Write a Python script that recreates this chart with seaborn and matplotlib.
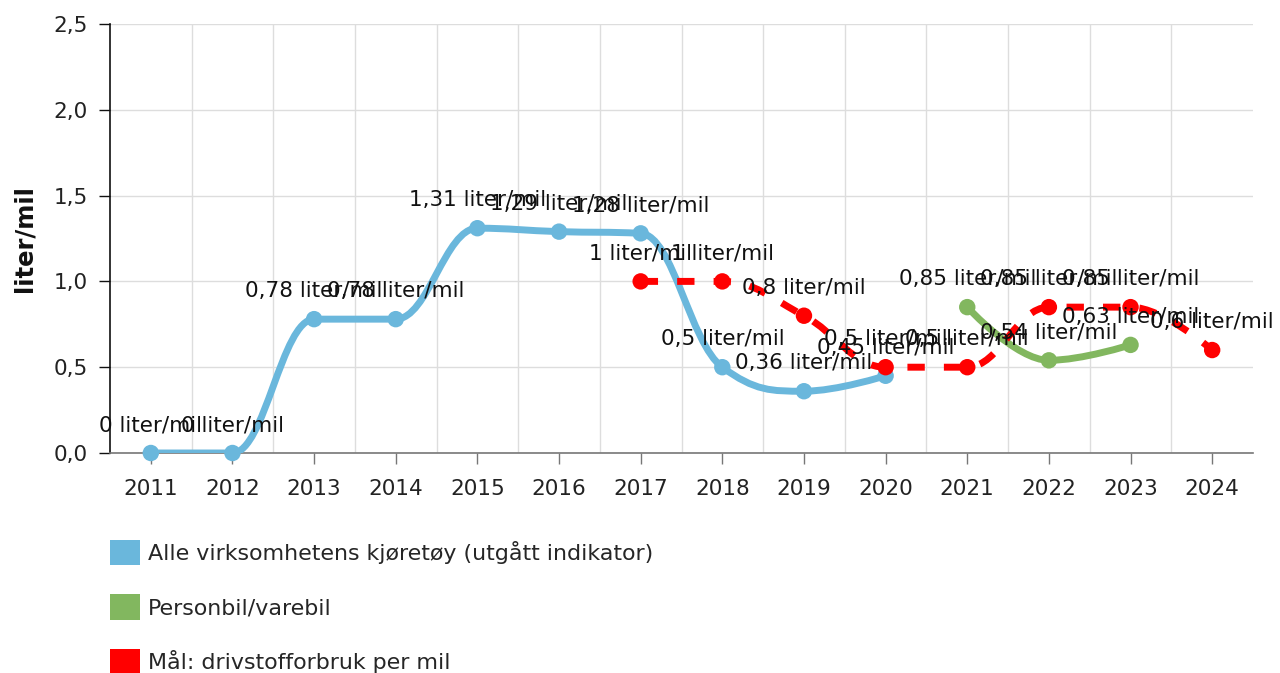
import matplotlib
matplotlib.use("Agg")
import matplotlib.pyplot as plt
import seaborn as sns
import pandas as pd
from matplotlib.path import Path
from matplotlib.patches import PathPatch, Patch

# ---- data ----
years = ["2011", "2012", "2013", "2014", "2015", "2016", "2017",
         "2018", "2019", "2020", "2021", "2022", "2023", "2024"]
alle_years = ["2011", "2012", "2013", "2014", "2015", "2016", "2017", "2018", "2019", "2020"]
alle_values = [0, 0, 0.78, 0.78, 1.31, 1.29, 1.28, 0.5, 0.36, 0.45]
person_years = ["2021", "2022", "2023"]
person_values = [0.85, 0.54, 0.63]
maal_years = ["2017", "2018", "2019", "2020", "2021", "2022", "2023", "2024"]
maal_values = [1, 1, 0.8, 0.5, 0.5, 0.85, 0.85, 0.6]
yticks = [0, 0.5, 1.0, 1.5, 2.0, 2.5]
ytick_labels = ["0,0", "0,5", "1,0", "1,5", "2,0", "2,5"]
series_names = ["Alle virksomhetens kjøretøy (utgått indikator)",
                "Personbil/varebil",
                "Mål: drivstofforbruk per mil"]
colors = ["#6ab7dc", "#82b75f", "#ff0000"]

FS = 15.5
FS_LEG = 15.9

sns.set_theme(style="white")
plt.rcParams['font.family'] = ['DejaVu Sans']

fig = plt.figure(figsize=(12.8, 6.73), dpi=100)
ax = fig.add_axes([110 / 1280, 1 - 453 / 673, (1253 - 110) / 1280, (453 - 24) / 673])


def spline_path(xs, ys, smoothing=1.5):
    """Spline through the points (control points as in a Highcharts-style spline)."""
    n = len(xs)
    ctrl = [None] * n
    d = smoothing + 1
    for i in range(1, n - 1):
        px, py = xs[i], ys[i]
        lx, ly = xs[i - 1], ys[i - 1]
        nx, ny = xs[i + 1], ys[i + 1]
        lcx = (smoothing * px + lx) / d
        lcy = (smoothing * py + ly) / d
        rcx = (smoothing * px + nx) / d
        rcy = (smoothing * py + ny) / d
        if rcx != lcx:
            corr = ((rcy - lcy) * (rcx - px)) / (rcx - lcx) + py - rcy
            lcy += corr
            rcy += corr
        if lcy > ly and lcy > py:
            lcy = max(ly, py); rcy = 2 * py - lcy
        elif lcy < ly and lcy < py:
            lcy = min(ly, py); rcy = 2 * py - lcy
        if rcy > ny and rcy > py:
            rcy = max(ny, py); lcy = 2 * py - rcy
        elif rcy < ny and rcy < py:
            rcy = min(ny, py); lcy = 2 * py - rcy
        ctrl[i] = (lcx, lcy, rcx, rcy)
    verts = [(xs[0], ys[0])]
    codes = [Path.MOVETO]
    for i in range(1, n):
        prev, cur = ctrl[i - 1], ctrl[i]
        c1 = (prev[2], prev[3]) if prev else (xs[i - 1], ys[i - 1])
        c2 = (cur[0], cur[1]) if cur else (xs[i], ys[i])
        verts += [c1, c2, (xs[i], ys[i])]
        codes += [Path.CURVE4] * 3
    return Path(verts, codes)


def fmt(v):
    return ("%g" % v).replace(".", ",")


series = [(alle_years, alle_values, colors[0], "solid", 3),
          (person_years, person_values, colors[1], "solid", 4),
          (maal_years, maal_values, colors[2], (0, (2.5, 2.75)), 5)]

for yrs, vals, col, ls, z in series:
    xs = [years.index(y) for y in yrs]
    df = pd.DataFrame({"x": xs, "y": vals})
    patch = PathPatch(spline_path(xs, vals), facecolor="none", edgecolor=col,
                      lw=5, linestyle=ls, zorder=z, capstyle="butt", joinstyle="round")
    ax.add_patch(patch)
    sns.scatterplot(data=df, x="x", y="y", ax=ax, color=col, s=140,
                    edgecolor="none", zorder=z + 0.5, legend=False, clip_on=False)

for yrs, vals, col, ls, z in series:
    for y, v in zip(yrs, vals):
        ax.annotate(fmt(v) + " liter/mil", (years.index(y), v), xytext=(0, 20),
                    textcoords="offset points", ha="center", va="center",
                    fontsize=FS, color="#111111", zorder=10)

ax.set_xlim(-0.5, len(years) - 0.5)
ax.set_ylim(0, 2.5)
ax.set_xticks(range(len(years)))
ax.set_xticklabels(years, fontsize=FS, color="#222222")
ax.set_yticks(yticks)
ax.set_yticklabels(ytick_labels, fontsize=FS, color="#222222")
ax.set_xticks([i - 0.5 for i in range(1, len(years))], minor=True)
ax.grid(False)
ax.grid(True, which="minor", axis="x", color="#dddddd", lw=1)
ax.grid(True, which="major", axis="y", color="#dddddd", lw=1)
ax.tick_params(axis="x", which="major", length=8, width=1, color="#777777", pad=11, bottom=True)
ax.tick_params(axis="x", which="minor", length=0)
ax.tick_params(axis="y", length=8, width=1, color="#111111", pad=8, left=True)
ax.set_axisbelow(True)
for s in ["top", "right"]:
    ax.spines[s].set_visible(False)
ax.spines["left"].set_color("#111111")
ax.spines["left"].set_linewidth(1.2)
ax.spines["bottom"].set_color("#777777")
ax.spines["bottom"].set_linewidth(1.2)
ax.set_xlabel("")
ax.set_ylabel("liter/mil", fontsize=17.5, fontweight="bold", color="#111111", labelpad=12)

handles = [Patch(facecolor=c, edgecolor="none") for c in colors]
fig.legend(handles=handles, labels=series_names, loc="upper left",
           bbox_to_anchor=(110 / 1280, 1 - 540 / 673), frameon=False,
           fontsize=FS_LEG, handlelength=1.37, handleheight=1.37, handletextpad=0.33,
           labelspacing=1.33, borderpad=0, borderaxespad=0)

fig.savefig("out.png", dpi=100)
